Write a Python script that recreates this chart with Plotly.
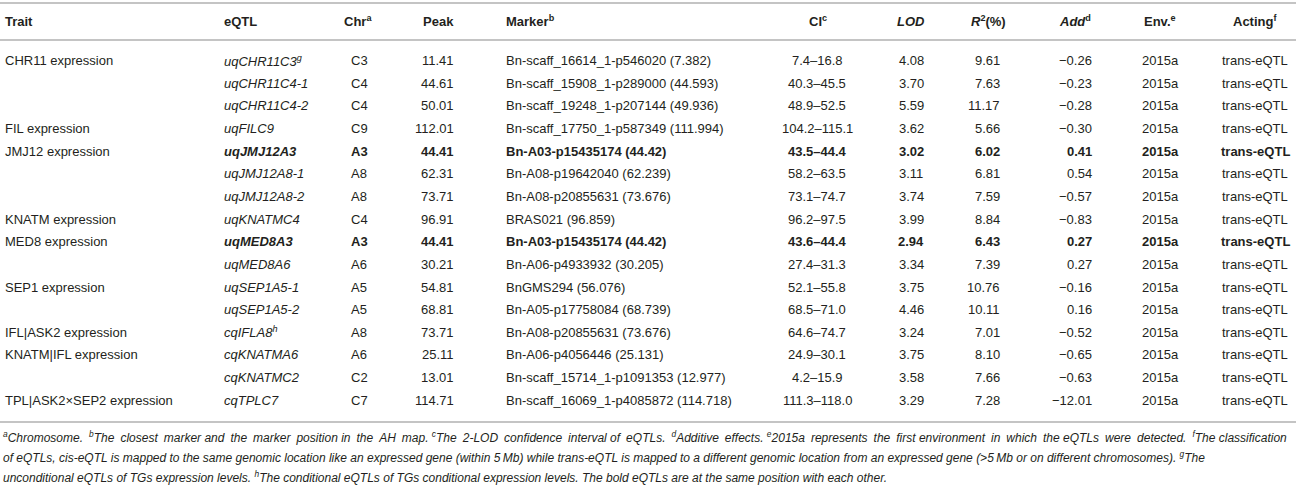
import plotly.graph_objects as go

# ---------------- data ----------------
headers = ["Trait", "eQTL", "Chr<sup>a</sup>", "Peak", "Marker<sup>b</sup>", "CI<sup>c</sup>",
           "<i>LOD</i>", "<i>R</i><sup>2</sup>(%)", "<i>Add</i><sup>d</sup>", "Env.<sup>e</sup>", "Acting<sup>f</sup>"]

traits = ["CHR11 expression", "", "", "FIL expression", "JMJ12 expression", "", "",
          "KNATM expression", "MED8 expression", "", "SEP1 expression", "",
          "IFL|ASK2 expression", "KNATM|IFL expression", "", "TPL|ASK2×SEP2 expression"]
eqtls = ["uqCHR11C3", "uqCHR11C4-1", "uqCHR11C4-2", "uqFILC9", "uqJMJ12A3", "uqJMJ12A8-1",
         "uqJMJ12A8-2", "uqKNATMC4", "uqMED8A3", "uqMED8A6", "uqSEP1A5-1", "uqSEP1A5-2",
         "cqIFLA8", "cqKNATMA6", "cqKNATMC2", "cqTPLC7"]
eqtl_sup = ["g", "", "", "", "", "", "", "", "", "", "", "", "h", "", "", ""]
chrs = ["C3", "C4", "C4", "C9", "A3", "A8", "A8", "C4", "A3", "A6", "A5", "A5", "A8", "A6", "C2", "C7"]
peaks = [11.41, 44.61, 50.01, 112.01, 44.41, 62.31, 73.71, 96.91, 44.41, 30.21, 54.81, 68.81,
         73.71, 25.11, 13.01, 114.71]
markers = ["Bn-scaff_16614_1-p546020 (7.382)", "Bn-scaff_15908_1-p289000 (44.593)",
           "Bn-scaff_19248_1-p207144 (49.936)", "Bn-scaff_17750_1-p587349 (111.994)",
           "Bn-A03-p15435174 (44.42)", "Bn-A08-p19642040 (62.239)", "Bn-A08-p20855631 (73.676)",
           "BRAS021 (96.859)", "Bn-A03-p15435174 (44.42)", "Bn-A06-p4933932 (30.205)",
           "BnGMS294 (56.076)", "Bn-A05-p17758084 (68.739)", "Bn-A08-p20855631 (73.676)",
           "Bn-A06-p4056446 (25.131)", "Bn-scaff_15714_1-p1091353 (12.977)",
           "Bn-scaff_16069_1-p4085872 (114.718)"]
cis = ["7.4–16.8", "40.3–45.5", "48.9–52.5", "104.2–115.1", "43.5–44.4", "58.2–63.5", "73.1–74.7",
       "96.2–97.5", "43.6–44.4", "27.4–31.3", "52.1–55.8", "68.5–71.0", "64.6–74.7", "24.9–30.1",
       "4.2–15.9", "111.3–118.0"]
lods = [4.08, 3.70, 5.59, 3.62, 3.02, 3.11, 3.74, 3.99, 2.94, 3.34, 3.75, 4.46, 3.24, 3.75, 3.58, 3.29]
r2s = [9.61, 7.63, 11.17, 5.66, 6.02, 6.81, 7.59, 8.84, 6.43, 7.39, 10.76, 10.11, 7.01, 8.10, 7.66, 7.28]
adds = [-0.26, -0.23, -0.28, -0.30, 0.41, 0.54, -0.57, -0.83, 0.27, 0.27, -0.16, 0.16,
        -0.52, -0.65, -0.63, -12.01]
envs = ["2015a"] * 16
actings = ["trans-eQTL"] * 16
bold_rows = [False, False, False, False, True, False, False, False, True, False,
             False, False, False, False, False, False]

footnotes = [
    "<sup>a</sup>Chromosome. <sup>b</sup>The closest marker and the marker position in the AH map. "
    "<sup>c</sup>The 2-LOD confidence interval of eQTLs. <sup>d</sup>Additive effects. "
    "<sup>e</sup>2015a represents the first environment in which the eQTLs were detected. "
    "<sup>f</sup>The classification",
    "of eQTLs, cis-eQTL is mapped to the same genomic location like an expressed gene (within 5\u2009Mb) "
    "while trans-eQTL is mapped to a different genomic location from an expressed gene "
    "(>5\u2009Mb or on different chromosomes). <sup>g</sup>The",
    "unconditional eQTLs of TGs expression levels. <sup>h</sup>The conditional eQTLs of TGs "
    "conditional expression levels. The bold eQTLs are at the same position with each other.",
]

# ---------------- layout constants ----------------
W, H = 1296, 492
FONT = "Liberation Sans, Arial, sans-serif"
TXT = "#231f20"
FS = 13
col_x = [3, 222, 359, 456, 504, 817, 911, 1002, 1094, 1160, 1255]
col_anchor = ["left", "left", "center", "right", "left", "center", "center", "right", "right", "center", "center"]
head_x = [3, 222, 358, 456, 504, 818, 911, 988, 1075, 1160, 1255]
head_anchor = ["left", "left", "center", "right", "left", "center", "center", "center", "center", "center", "center"]
head_y = 21
row_y0 = 60.5
row_dy = 22.65
line_top, line_head, line_bot = 3, 40, 422
foot_y = [437, 457, 477]


def fmt_num(v):
    s = f"{abs(v):.2f}"
    return ("\u2212" + s) if v < 0 else s


def justify(text, every=4):
    # widen most inter-word spaces (en space) to mimic justified text
    parts = text.split(" ")
    out = parts[0]
    for k, p in enumerate(parts[1:]):
        out += (" " if k % every == every - 1 else "\u2002") + p
    return out


def font(bold=False, italic=False, size=FS):
    return dict(family=FONT, size=size, color=TXT,
                weight="bold" if bold else "normal",
                style="italic" if italic else "normal")


annotations = []
for x, a, h in zip(head_x, head_anchor, headers):
    annotations.append(dict(x=x, y=head_y, xanchor=a, yanchor="middle", text=h,
                            showarrow=False, font=font(bold=True)))

for i in range(len(eqtls)):
    y = row_y0 + i * row_dy
    for j, (x, a) in enumerate(zip(col_x, col_anchor)):
        italic = False
        if j == 0:
            c = traits[i]
        elif j == 1:
            italic = True
            c = eqtls[i] + (f"<sup>{eqtl_sup[i]}</sup>" if eqtl_sup[i] else "")
        elif j == 2:
            c = chrs[i]
        elif j == 3:
            c = f"{peaks[i]:.2f}"
        elif j == 4:
            c = markers[i]
        elif j == 5:
            c = cis[i]
        elif j == 6:
            c = f"{lods[i]:.2f}"
        elif j == 7:
            c = f"{r2s[i]:.2f}"
        elif j == 8:
            c = fmt_num(adds[i])
        elif j == 9:
            c = envs[i]
        else:
            c = actings[i]
        if not c:
            continue
        annotations.append(dict(x=x, y=y, xanchor=a, yanchor="middle", text=c, showarrow=False,
                                font=font(bold=bold_rows[i] and j > 0, italic=italic)))

foot_texts = [justify(footnotes[0]), footnotes[1], footnotes[2]]
for y, t in zip(foot_y, foot_texts):
    annotations.append(dict(x=1, y=y, xanchor="left", yanchor="middle", text=t,
                            showarrow=False, font=font(italic=True, size=12)))

shapes = []
for y in [line_top, line_head, line_bot]:
    shapes.append(dict(type="line", x0=0, x1=W, y0=y, y1=y, xref="x", yref="y",
                       line=dict(color="#c4c4c4", width=2)))

fig = go.Figure()
fig.add_trace(go.Scatter(x=[0, W], y=[0, H], mode="markers", marker=dict(opacity=0),
                         hoverinfo="skip", showlegend=False))
fig.update_layout(width=W, height=H, margin=dict(l=0, r=0, t=0, b=0),
                  paper_bgcolor="white", plot_bgcolor="white",
                  xaxis=dict(range=[0, W], visible=False, fixedrange=True),
                  yaxis=dict(range=[H, 0], visible=False, fixedrange=True),
                  annotations=annotations, shapes=shapes, showlegend=False)
fig.write_html("out.html", config={"displayModeBar": False},
               post_script="document.body.style.margin='0';document.body.style.overflow='hidden';")
